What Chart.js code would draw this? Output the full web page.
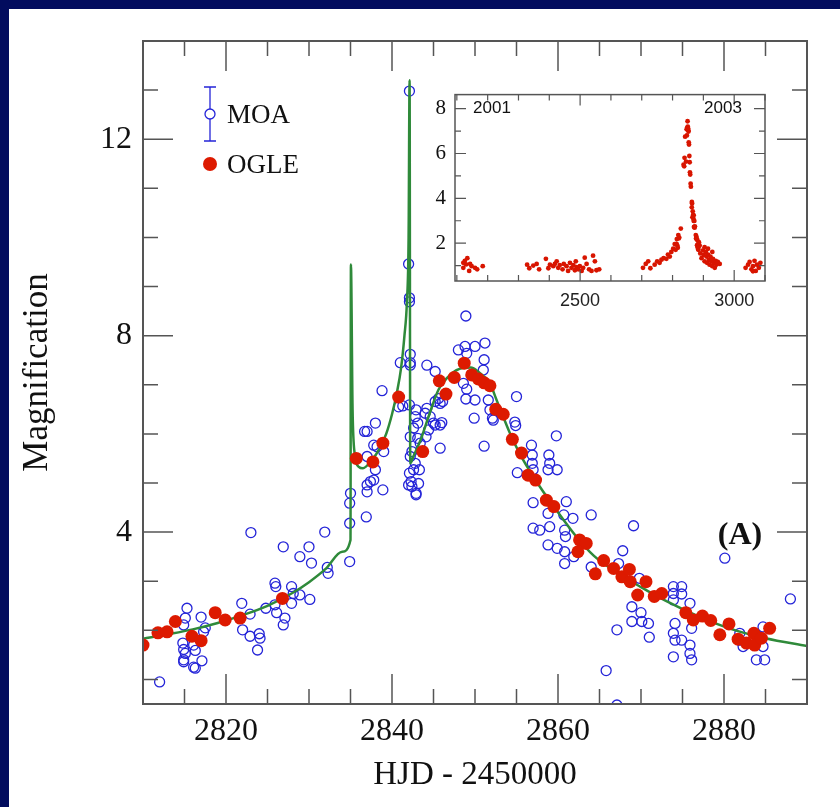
<!DOCTYPE html>
<html>
<head>
<meta charset="utf-8">
<script src="https://cdn.jsdelivr.net/npm/chart.js@4.4.1/dist/chart.umd.min.js"></script>
<style>
  html, body { margin: 0; padding: 0; background: #fff; }
  #wrap  { position: relative; width: 840px; height: 807px; overflow: hidden; }
  #main  { position: absolute; left: 0; top: 0; }
  #inset { position: absolute; left: 415px; top: 73px; }
</style>
</head>
<body>
<div id="wrap">
  <canvas id="main" width="840" height="807"></canvas>
  <canvas id="inset" width="365" height="245"></canvas>
</div>
<script>
// ---- main panel data (HJD - 2450000, magnification) ----
const MOA_X = [
  2812.0, 2815.3, 2815.1, 2814.9, 2814.8, 2814.9, 2815.1, 2814.9, 2816.1, 2816.3, 2816.1, 2817.0, 2817.3, 2817.1, 2816.3, 2814.9, 2817.5,
  2821.9, 2822.9, 2822.0, 2822.9, 2824.0, 2824.1, 2823.8, 2824.8, 2825.9, 2826.0, 2825.9, 2826.1, 2827.1, 2826.9, 2827.9, 2828.1, 2828.9,
  2827.9, 2830.1, 2832.2, 2832.3, 2823.0, 2826.9, 2828.9, 2830.0, 2830.3, 2831.9, 2834.9, 2834.9, 2834.9, 2835.0, 2836.9, 2837.0, 2837.0,
  2837.4, 2837.8, 2838.9, 2838.0, 2837.0, 2838.0, 2838.2, 2839.0, 2838.8, 2837.0, 2837.8, 2836.7, 2840.8, 2841.0, 2842.2, 2842.2, 2842.1,
  2842.1, 2842.0, 2842.1, 2842.1, 2842.9, 2842.8, 2843.1, 2842.6, 2842.2, 2843.1, 2843.4, 2842.4, 2842.2, 2842.8, 2842.6, 2842.1, 2842.3,
  2842.4, 2843.2, 2842.9, 2843.3, 2844.0, 2844.2, 2844.4, 2844.1, 2844.6, 2845.2, 2845.6, 2846.1, 2846.0, 2845.8, 2845.0, 2844.2, 2845.2,
  2841.3, 2842.0, 2842.9, 2842.2, 2845.8, 2845.2, 2845.8, 2848.9, 2848.0, 2848.8, 2850.0, 2851.2, 2851.1, 2851.0, 2849.0, 2848.6, 2849.0,
  2848.9, 2850.0, 2849.9, 2851.6, 2852.1, 2851.1, 2851.8, 2852.2, 2855.0, 2854.8, 2854.9, 2859.8, 2856.8, 2856.9, 2856.9, 2857.0, 2855.1,
  2857.0, 2857.0, 2857.8, 2858.8, 2859.0, 2858.9, 2859.0, 2858.8, 2859.9, 2861.0, 2860.7, 2861.8, 2858.8, 2859.9, 2860.9, 2860.8, 2860.8,
  2861.9, 2860.8, 2864.0, 2864.0, 2867.8, 2867.3, 2869.1, 2869.8, 2868.9, 2870.0, 2868.9, 2870.1, 2870.9, 2871.0, 2867.1, 2865.8, 2867.1,
  2873.9, 2874.9, 2873.9, 2874.9, 2873.9, 2875.9, 2874.1, 2873.9, 2874.1, 2874.9, 2873.9, 2875.9, 2875.9, 2876.1, 2876.1, 2880.1, 2881.9,
  2882.3, 2884.7, 2884.9, 2883.9, 2884.7, 2888.0, 2881.9
];
const MOA_Y = [
  0.95, 2.45, 2.25, 2.11, 1.74, 1.61, 1.53, 1.40, 1.70, 1.59, 1.25, 2.27, 1.97, 1.38, 1.23, 1.36, 2.05,
  2.55, 2.33, 2.01, 1.88, 1.93, 1.84, 1.60, 2.45, 2.96, 2.89, 2.52, 2.36, 2.25, 2.11, 2.89, 2.75, 2.72,
  2.55, 2.63, 3.28, 3.16, 3.99, 3.70, 3.50, 3.70, 3.37, 4.00, 3.40, 4.18, 4.59, 4.79, 4.31, 4.82, 4.96,
  5.03, 5.06, 4.86, 5.27, 6.05, 6.22, 5.74, 5.64, 6.88, 5.54, 5.77, 6.05, 6.55, 7.45, 7.45, 7.62, 8.69,
  12.98, 9.46, 8.77, 6.59, 6.49, 6.35, 6.22, 6.12, 5.94, 5.91, 5.81, 5.64, 5.54, 5.40, 5.27, 5.20, 5.03,
  4.93, 4.99, 4.76, 5.27, 6.42, 6.52, 6.08, 5.94, 6.35, 6.66, 6.72, 6.66, 6.23, 5.71, 6.22, 7.40, 7.27,
  6.57, 4.96, 4.79, 7.40, 6.18, 6.18, 6.62, 8.40, 7.71, 7.78, 7.78, 7.85, 7.51, 7.30, 7.64, 7.03, 6.91,
  6.71, 6.69, 6.32, 6.69, 6.32, 5.75, 6.49, 6.28, 6.76, 6.24, 6.17, 5.96, 5.77, 5.57, 5.40, 5.27, 5.21,
  4.60, 4.08, 4.04, 4.38, 4.11, 5.57, 5.40, 5.27, 5.27, 4.62, 4.35, 4.28, 3.74, 3.67, 3.91, 3.60, 3.36,
  3.50, 4.04, 4.35, 3.29, 3.62, 3.36, 4.13, 3.06, 2.48, 2.36, 2.18, 2.18, 2.14, 1.86, 2.01, 1.18, 0.48,
  2.89, 2.89, 2.75, 2.74, 2.62, 2.55, 2.14, 1.94, 1.80, 1.80, 1.46, 1.70, 1.53, 1.40, 2.04, 3.47, 1.80,
  1.67, 1.67, 1.40, 1.40, 2.07, 2.64, 1.94
];
const OGLE_X = [
  2810.0, 2811.8, 2812.9, 2813.9, 2815.9, 2817.0, 2818.7, 2819.9, 2821.7, 2826.8, 2835.7, 2837.7, 2838.9, 2840.8,
  2843.7, 2845.7, 2846.5, 2847.5, 2848.7, 2849.6, 2850.4, 2851.1, 2851.8, 2852.5, 2853.4, 2854.5, 2855.6, 2856.4,
  2857.3, 2858.6, 2859.5, 2862.6, 2863.4, 2862.4, 2864.5, 2865.5, 2866.7, 2867.7, 2868.6, 2868.7, 2869.6, 2870.6,
  2871.6, 2872.5, 2875.4, 2876.3, 2877.4, 2878.4, 2879.5, 2880.6, 2881.7, 2882.7, 2883.6, 2883.7, 2884.5, 2885.5
];
const OGLE_Y = [
  1.70, 1.95, 1.97, 2.18, 1.88, 1.79, 2.36, 2.21, 2.25, 2.65, 5.50, 5.43, 5.81, 6.75,
  5.64, 7.08, 6.81, 7.15, 7.44, 7.20, 7.12, 7.04, 6.98, 6.50, 6.40, 5.89, 5.61, 5.16,
  5.06, 4.65, 4.52, 3.84, 3.77, 3.60, 3.15, 3.42, 3.26, 3.09, 3.24, 2.99, 2.72, 2.99,
  2.69, 2.75, 2.36, 2.21, 2.29, 2.20, 1.91, 2.13, 1.82, 1.74, 1.94, 1.70, 1.84, 2.04
];
// binary-lens model curve (two caustic crossings)
const MODEL_X = [
  2810, 2813, 2816, 2819, 2822, 2825, 2828, 2830, 2832, 2834, 2835, 2835.05, 2835.25, 2835.5, 2836, 2836.5,
  2837.5, 2838.5, 2839.3, 2840, 2840.6, 2841.1, 2841.5, 2841.8, 2842.0, 2842.12, 2842.2, 2842.6, 2843.5, 2844.5,
  2845.6, 2847, 2848.5, 2849.5, 2850.5, 2851.8, 2852.6, 2853.4, 2854.2, 2855.7, 2857.8, 2859.8, 2862.2, 2864.3,
  2866.7, 2870, 2873, 2877, 2881, 2885, 2890
];
const MODEL_Y = [
  1.83, 1.92, 2.02, 2.15, 2.31, 2.50, 2.76, 2.98, 3.25, 3.60, 3.84, 9.45, 6.50, 5.60, 5.33, 5.30,
  5.45, 5.70, 6.00, 6.40, 6.85, 7.35, 8.00, 8.70, 10.0, 13.2, 5.40, 5.55, 5.90, 6.40,
  6.90, 7.20, 7.34, 7.35, 7.25, 7.03, 6.69, 6.35, 6.02, 5.50, 4.93, 4.45, 3.91, 3.52,
  3.22, 2.88, 2.60, 2.28, 2.02, 1.84, 1.68
];
const X_TICKS = [2820, 2840, 2860, 2880];
const Y_TICKS = [4, 8, 12];

// ---- inset: OGLE seasons 2001-2003 (points outside the main window) ----
const SEASON_X = [
  2121, 2126, 2134, 2130, 2140, 2148, 2159, 2166, 2184, 2121, 2143,
  2328, 2335, 2348, 2359, 2367, 2389, 2402, 2413, 2418, 2429, 2434, 2443, 2447, 2456, 2461, 2467, 2472, 2478,
  2483, 2488, 2494, 2499, 2505, 2510, 2515, 2521, 2529, 2537, 2542, 2548, 2553, 2562, 2397, 2424, 2486,
  2704, 2713, 2721, 2728, 2742, 2750, 2758, 2764, 2771, 2780, 2785, 2791, 2796, 2802, 2807,
  2888, 2890, 2894, 2899, 2901, 2904, 2908, 2910, 2912, 2915, 2918, 2920, 2923, 2926, 2929, 2931, 2933, 2937,
  2940, 2942, 2947, 2953, 2904, 2915, 2929,
  3037, 3045, 3050, 3056, 3061, 3066, 3070, 3074, 3080, 3085, 3061
];
const SEASON_Y = [
  0.90, 1.21, 1.33, 1.05, 0.76, 0.97, 0.90, 0.83, 0.97, 1.12, 1.07,
  1.04, 0.88, 1.00, 1.07, 0.83, 1.30, 1.04, 0.97, 1.07, 0.90, 1.02, 0.83, 1.07, 0.97, 0.76, 1.12, 0.90, 1.02,
  0.79, 0.93, 0.83, 0.97, 0.76, 0.90, 1.35, 1.07, 0.83, 0.76, 1.44, 1.19, 0.79, 0.83, 0.88, 1.19, 1.19,
  0.90, 1.07, 1.19, 0.88, 1.04, 1.19, 1.12, 1.26, 1.33, 1.30, 1.49, 1.40, 1.61, 1.75, 1.96,
  1.89, 1.54, 1.33, 1.68, 1.47, 1.19, 1.61, 1.40, 1.12, 1.49, 1.26, 1.04, 1.40, 1.19, 0.97, 1.30, 1.12, 0.90,
  1.21, 1.04, 1.16, 1.07, 1.82, 1.75, 1.61,
  0.90, 1.04, 1.16, 0.83, 0.97, 1.21, 0.76, 1.04, 0.90, 1.12, 0.74
];
const INSET_X_TICKS = [2500, 3000];
const INSET_Y_TICKS = [2, 4, 6, 8];

const SERIF = "'Liberation Serif', 'DejaVu Serif', serif";
const SANS  = "'Liberation Sans', Arial, sans-serif";
const NAVY  = '#020c5e';
const AXIS  = '#555555';
const BLUE  = '#2424d8';
const RED   = '#dd1a00';
const GREEN = '#2f8a3a';

const pts = (xs, ys) => xs.map((x, i) => ({ x, y: ys[i] }));
const plain = v => String(v);

// inward tick marks on all four sides, positions from the chart's own scales
function drawFrame(chart, o) {
  const { ctx, chartArea: a, scales: { x, y } } = chart;
  ctx.save();
  ctx.strokeStyle = AXIS;
  ctx.lineWidth = o.tickWidth;
  ctx.beginPath();
  for (let v = o.xFrom; v <= o.xTo + 1e-6; v += o.xStep) {
    const px = x.getPixelForValue(v);
    const len = o.xMajor.includes(Math.round(v)) ? o.major : o.minor;
    ctx.moveTo(px, a.bottom); ctx.lineTo(px, a.bottom - len);
    ctx.moveTo(px, a.top);    ctx.lineTo(px, a.top + len);
  }
  for (let v = o.yFrom; v <= o.yTo + 1e-6; v += o.yStep) {
    const py = y.getPixelForValue(v);
    const len = o.yMajor.includes(Math.round(v)) ? o.major : o.minor;
    ctx.moveTo(a.left, py);  ctx.lineTo(a.left + len, py);
    ctx.moveTo(a.right, py); ctx.lineTo(a.right - len, py);
  }
  ctx.stroke();
  ctx.lineWidth = o.frameWidth;
  ctx.strokeRect(a.left, a.top, a.right - a.left, a.bottom - a.top);
  ctx.restore();
}

const mainDecor = {
  id: 'mainDecor',
  beforeDraw(chart) {
    const { ctx, width, height } = chart;
    ctx.save();
    ctx.fillStyle = '#ffffff';
    ctx.fillRect(0, 0, width, height);
    ctx.fillStyle = NAVY;
    ctx.fillRect(0, 0, width, 9);
    ctx.fillRect(0, 0, 9, height);
    ctx.restore();
  },
  afterDraw(chart) {
    drawFrame(chart, {
      xFrom: 2810, xTo: 2890, xStep: 5, xMajor: X_TICKS,
      yFrom: 1, yTo: 14, yStep: 1, yMajor: Y_TICKS,
      major: 30, minor: 15, tickWidth: 1.5, frameWidth: 2
    });
    const ctx = chart.ctx;
    ctx.save();
    // legend
    ctx.strokeStyle = BLUE;
    ctx.lineWidth = 1.3;
    ctx.beginPath();
    ctx.moveTo(210, 87);  ctx.lineTo(210, 109);
    ctx.moveTo(210, 119); ctx.lineTo(210, 141);
    ctx.moveTo(204, 87);  ctx.lineTo(216, 87);
    ctx.moveTo(204, 141); ctx.lineTo(216, 141);
    ctx.stroke();
    ctx.beginPath();
    ctx.arc(210, 114, 5, 0, Math.PI * 2);
    ctx.stroke();
    ctx.fillStyle = RED;
    ctx.beginPath();
    ctx.arc(210, 164, 7, 0, Math.PI * 2);
    ctx.fill();
    ctx.fillStyle = '#111';
    ctx.font = `27px ${SERIF}`;
    ctx.textAlign = 'left';
    ctx.textBaseline = 'middle';
    ctx.fillText('MOA', 227, 116);
    ctx.fillText('OGLE', 227, 166);
    ctx.font = `bold 32px ${SERIF}`;
    ctx.textAlign = 'center';
    ctx.fillText('(A)', 740, 536);
    ctx.restore();
  }
};

new Chart(document.getElementById('main'), {
  type: 'scatter',
  data: {
    datasets: [
      {
        label: 'OGLE',
        data: pts(OGLE_X, OGLE_Y),
        backgroundColor: RED,
        borderColor: RED,
        borderWidth: 0,
        pointRadius: 6.5
      },
      {
        label: 'model',
        type: 'line',
        data: pts(MODEL_X, MODEL_Y),
        borderColor: GREEN,
        borderWidth: 2.5,
        pointRadius: 0,
        fill: false,
        cubicInterpolationMode: 'monotone'
      },
      {
        label: 'MOA',
        data: pts(MOA_X, MOA_Y),
        backgroundColor: 'rgba(0,0,0,0)',
        borderColor: BLUE,
        borderWidth: 1.3,
        pointRadius: 5
      }
    ]
  },
  options: {
    responsive: false,
    animation: false,
    events: [],
    layout: { padding: { left: 0, top: 41, right: 33, bottom: 0 } },
    plugins: { legend: { display: false }, tooltip: { enabled: false } },
    scales: {
      x: {
        type: 'linear',
        min: 2810, max: 2890,
        grid: { display: false, drawTicks: false },
        border: { display: false },
        afterBuildTicks: s => { s.ticks = X_TICKS.map(v => ({ value: v })); },
        afterFit: s => { s.height = 103; },
        ticks: { color: '#111', font: { family: SERIF, size: 32 }, padding: 8, maxRotation: 0, callback: plain },
        title: { display: true, text: 'HJD - 2450000', color: '#111',
                 font: { family: SERIF, size: 33 }, padding: { top: 0, bottom: 12 } }
      },
      y: {
        type: 'linear',
        min: 0.5, max: 14,
        grid: { display: false, drawTicks: false },
        border: { display: false },
        afterBuildTicks: s => { s.ticks = Y_TICKS.map(v => ({ value: v })); },
        afterFit: s => { s.width = 143; },
        ticks: { color: '#111', font: { family: SERIF, size: 32 }, padding: 11, callback: plain },
        title: { display: true, text: 'Magnification', color: '#111',
                 font: { family: SERIF, size: 35 }, padding: { top: 17, bottom: 0 } }
      }
    }
  },
  plugins: [mainDecor]
});

// ---- inset ----
const insetDecor = {
  id: 'insetDecor',
  beforeDraw(chart) {
    const { ctx, chartArea: a } = chart;
    ctx.save();
    ctx.fillStyle = '#ffffff';
    ctx.fillRect(a.left, a.top, a.right - a.left, a.bottom - a.top);
    ctx.restore();
  },
  afterDraw(chart) {
    drawFrame(chart, {
      xFrom: 2100, xTo: 3100, xStep: 100, xMajor: INSET_X_TICKS,
      yFrom: 1, yTo: 8, yStep: 1, yMajor: INSET_Y_TICKS,
      major: 11, minor: 6, tickWidth: 1.2, frameWidth: 1.5
    });
    const { ctx } = chart;
    ctx.save();
    ctx.fillStyle = '#111';
    ctx.font = `17px ${SANS}`;
    ctx.textAlign = 'center';
    ctx.textBaseline = 'middle';
    ctx.fillText('2001', 77, 35);
    ctx.fillText('2003', 308, 35);
    ctx.restore();
  }
};

new Chart(document.getElementById('inset'), {
  type: 'scatter',
  data: {
    datasets: [{
      label: 'OGLE',
      data: pts(SEASON_X.concat(OGLE_X), SEASON_Y.concat(OGLE_Y)),
      backgroundColor: '#d81500',
      borderWidth: 0,
      pointRadius: 2.4
    }]
  },
  options: {
    responsive: false,
    animation: false,
    events: [],
    layout: { padding: { left: 0, top: 10, right: 15, bottom: 0 } },
    plugins: { legend: { display: false }, tooltip: { enabled: false } },
    scales: {
      x: {
        type: 'linear',
        min: 2094, max: 3100,
        grid: { display: false, drawTicks: false },
        border: { display: false },
        afterBuildTicks: s => { s.ticks = INSET_X_TICKS.map(v => ({ value: v })); },
        afterFit: s => { s.height = 37; },
        ticks: { color: '#222', font: { family: SANS, size: 18 }, padding: 9, maxRotation: 0, callback: plain }
      },
      y: {
        type: 'linear',
        min: 0.31, max: 8.63,
        grid: { display: false, drawTicks: false },
        border: { display: false },
        afterBuildTicks: s => { s.ticks = INSET_Y_TICKS.map(v => ({ value: v })); },
        afterFit: s => { s.width = 40; },
        ticks: { color: '#111', font: { family: SERIF, size: 21 }, padding: 9, callback: plain }
      }
    }
  },
  plugins: [insetDecor]
});
</script>
</body>
</html>
